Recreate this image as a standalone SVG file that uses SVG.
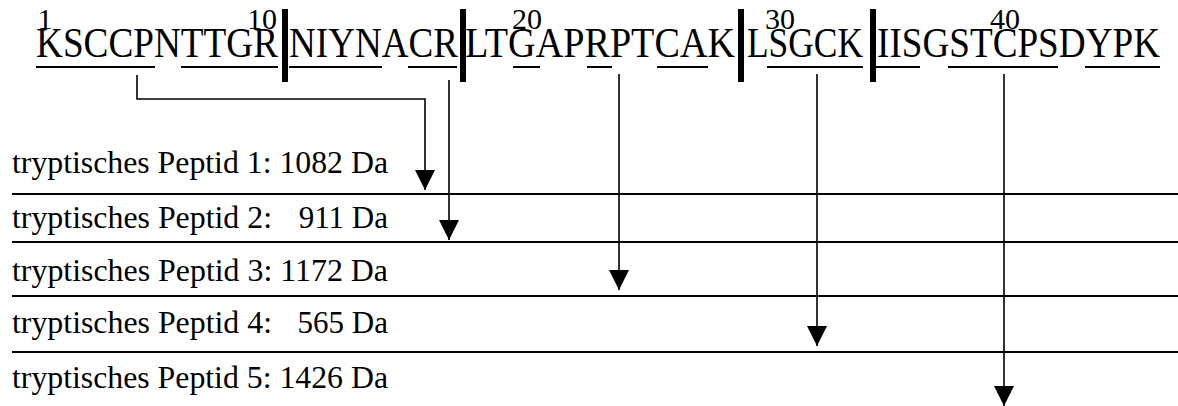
<svg xmlns="http://www.w3.org/2000/svg" width="1178" height="406" viewBox="0 0 1178 406">
<style>
.seq{font-family:"Liberation Serif","Times New Roman",serif;font-size:42px;fill:#000}
.num{font-family:"Liberation Serif","Times New Roman",serif;font-size:30px;fill:#000;text-anchor:middle}
.lbl{font-family:"Liberation Serif","Times New Roman",serif;font-size:31px;fill:#000}
.ul{stroke:#000;stroke-width:2.2;fill:none}
.bar{fill:#000}
.rule{stroke:#000;stroke-width:2;fill:none}
.conn{stroke:#000;stroke-width:1.6;fill:none;marker-end:url(#ah)}
</style>
<defs>
<marker id="ah" viewBox="0 0 20 20" refX="20" refY="10" markerWidth="20" markerHeight="20" markerUnits="userSpaceOnUse" orient="auto">
<path d="M0,0 L20,10 L0,20 z" fill="#000"/>
</marker>
</defs>
<rect width="1178" height="406" fill="#fff"/>
<g id="sequence">
<text class="num" x="45" y="29">1</text>
<text class="num" x="262" y="29">10</text>
<text class="num" x="527" y="29">20</text>
<text class="num" x="780" y="29">30</text>
<text class="num" x="1005" y="29">40</text>
<text class="seq" x="36" y="57" textLength="242" lengthAdjust="spacingAndGlyphs">KSCCPNTTGR</text>
<text class="seq" x="289" y="57" textLength="169" lengthAdjust="spacingAndGlyphs">NIYNACR</text>
<text class="seq" x="465" y="57" textLength="270" lengthAdjust="spacingAndGlyphs">LTGAPRPTCAK</text>
<text class="seq" x="747" y="57" textLength="116" lengthAdjust="spacingAndGlyphs">LSGCK</text>
<text class="seq" x="877" y="57" textLength="283" lengthAdjust="spacingAndGlyphs">IISGSTCPSDYPK</text>
<path class="ul" d="M36,67H155M181,67H278M289,67H382M408,67H457M513,67H540M587,67H612M657,67H708M767,67H863M876,67H920M948,67H1058M1085,67H1160"/>
<rect class="bar" x="282" y="9" width="6" height="73"/>
<rect class="bar" x="460" y="9" width="6" height="73"/>
<rect class="bar" x="738" y="9" width="6" height="73"/>
<rect class="bar" x="870" y="9" width="6" height="73"/>
</g>
<g id="peptide1"><text class="lbl" x="12" y="173" textLength="376" lengthAdjust="spacingAndGlyphs">tryptisches Peptid 1: 1082 Da</text></g>
<g id="peptide2"><text class="lbl" x="12" y="228"><tspan textLength="260" lengthAdjust="spacingAndGlyphs">tryptisches Peptid 2:</tspan><tspan x="388" text-anchor="end">911 Da</tspan></text></g>
<g id="peptide3"><text class="lbl" x="12" y="281" textLength="376" lengthAdjust="spacingAndGlyphs">tryptisches Peptid 3: 1172 Da</text></g>
<g id="peptide4"><text class="lbl" x="12" y="333"><tspan textLength="260" lengthAdjust="spacingAndGlyphs">tryptisches Peptid 4:</tspan><tspan x="388" text-anchor="end">565 Da</tspan></text></g>
<g id="peptide5"><text class="lbl" x="12" y="388" textLength="376" lengthAdjust="spacingAndGlyphs">tryptisches Peptid 5: 1426 Da</text></g>
<g id="rules">
<path class="rule" d="M12,194H1178M12,242H1178M12,296H1178M12,352H1178"/>
</g>
<g id="connectors">
<path class="conn" d="M137,75V99H425V190"/>
<path class="conn" d="M449,80V240"/>
<path class="conn" d="M619,74V290"/>
<path class="conn" d="M817,74V346"/>
<path class="conn" d="M1004,74V406"/>
</g>
</svg>
